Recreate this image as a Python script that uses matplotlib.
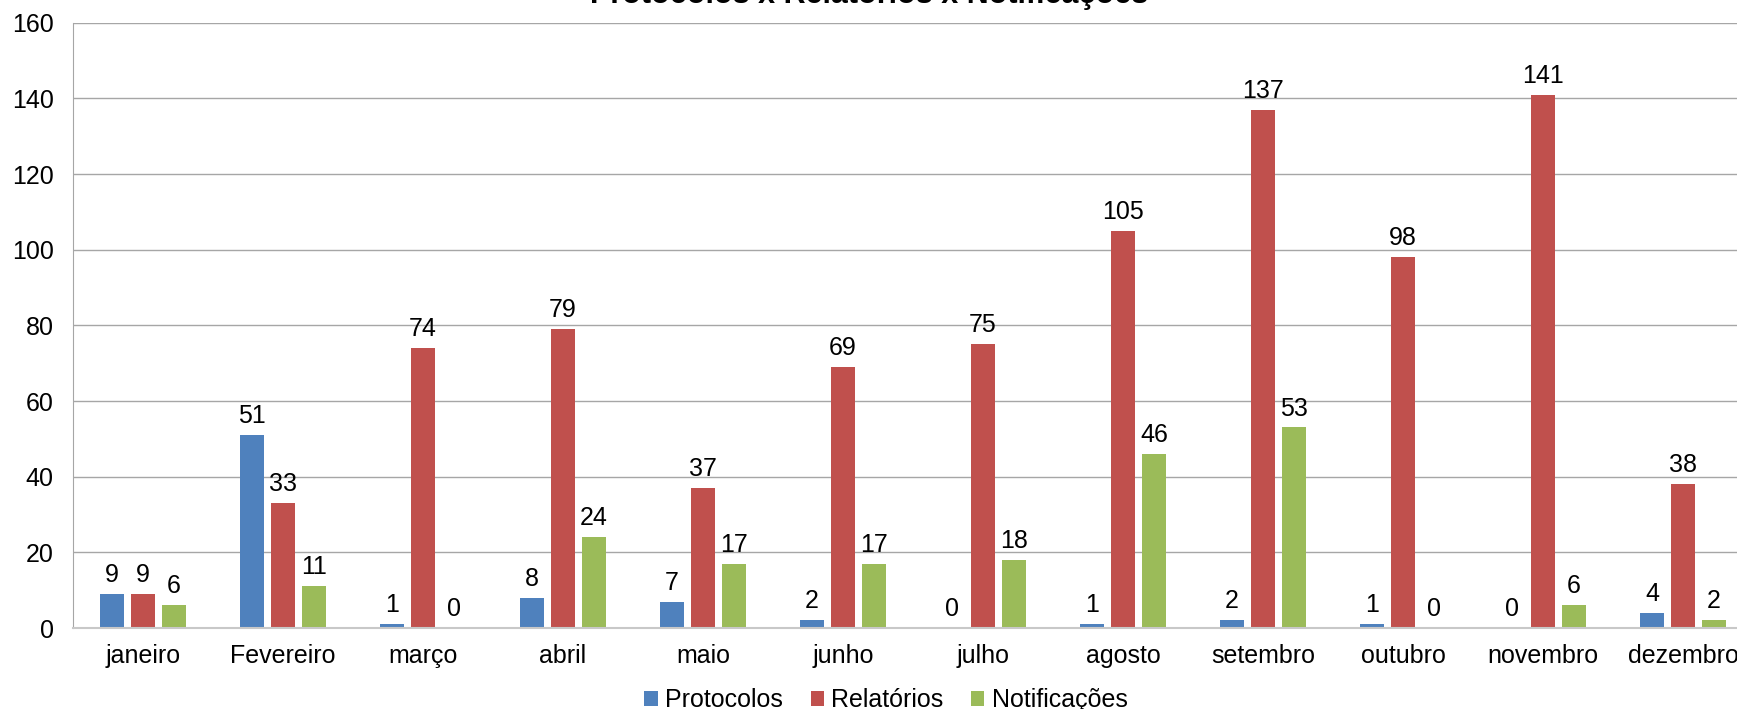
import matplotlib.pyplot as plt
import numpy as np

# data
meses = ['janeiro', 'Fevereiro', 'março', 'abril', 'maio', 'junho',
         'julho', 'agosto', 'setembro', 'outubro', 'novembro', 'dezembro']
protocolos = [9, 51, 1, 8, 7, 2, 0, 1, 2, 1, 0, 4]
relatorios = [9, 33, 74, 79, 37, 69, 75, 105, 137, 98, 141, 38]
notificacoes = [6, 11, 0, 24, 17, 17, 18, 46, 53, 0, 6, 2]

series = [('Protocolos', protocolos, '#4F81BD'),
          ('Relatórios', relatorios, '#C0504D'),
          ('Notificações', notificacoes, '#9BBB59')]

plt.rcParams['font.family'] = ['Liberation Sans', 'DejaVu Sans']
FS = 18

W, H = 1737, 709
fig = plt.figure(figsize=(W / 100, H / 100), dpi=100)
# plot area runs a little past the right edge, like the cropped original
ax = fig.add_axes([73 / W, 1 - 628 / H, 1680 / W, (628 - 22.7) / H])

x = np.arange(len(meses))
pitch = 31 / 140
width = 24 / 140
for k, (name, vals, col) in enumerate(series):
    pos = x + (k - 1) * pitch
    ax.bar(pos, vals, width, color=col, label=name, zorder=3)
    for p, v in zip(pos, vals):
        ax.annotate(str(v), (p, v), xytext=(0, 5), textcoords='offset points',
                    ha='center', va='bottom', fontsize=FS, color='black')

ax.set_xlim(-0.5, len(meses) - 0.5)
ax.set_ylim(0, 160)
ax.set_yticks(np.arange(0, 161, 20))
ax.set_xticks(x)
ax.set_xticklabels(meses)
ax.tick_params(axis='both', length=0, labelsize=FS, colors='black')
ax.tick_params(axis='x', pad=11.5)
ax.tick_params(axis='y', pad=14)
ax.yaxis.grid(True, color='#A6A6A6', linewidth=1, zorder=0)
ax.set_axisbelow(True)
for s in ['top', 'right']:
    ax.spines[s].set_visible(False)
ax.spines['left'].set_color('#A6A6A6')
ax.spines['bottom'].set_color('#C8C8C8')
ax.spines['bottom'].set_linewidth(1.5)
ax.spines['bottom'].set_zorder(4)

# title is mostly cut off at the top of the original picture
fig.text(869 / W, 1 - 3 / H, 'Protocolos x Relatórios x Notificações',
         ha='center', va='baseline', fontsize=22, fontweight='bold')

fig.legend(loc='center', bbox_to_anchor=(886 / W, 1 - 700 / H), ncol=3,
           frameon=False, fontsize=FS, handlelength=0.53, handleheight=0.53,
           handletextpad=0.3, columnspacing=1.1, borderpad=0)

fig.savefig('out.png', dpi=100)
